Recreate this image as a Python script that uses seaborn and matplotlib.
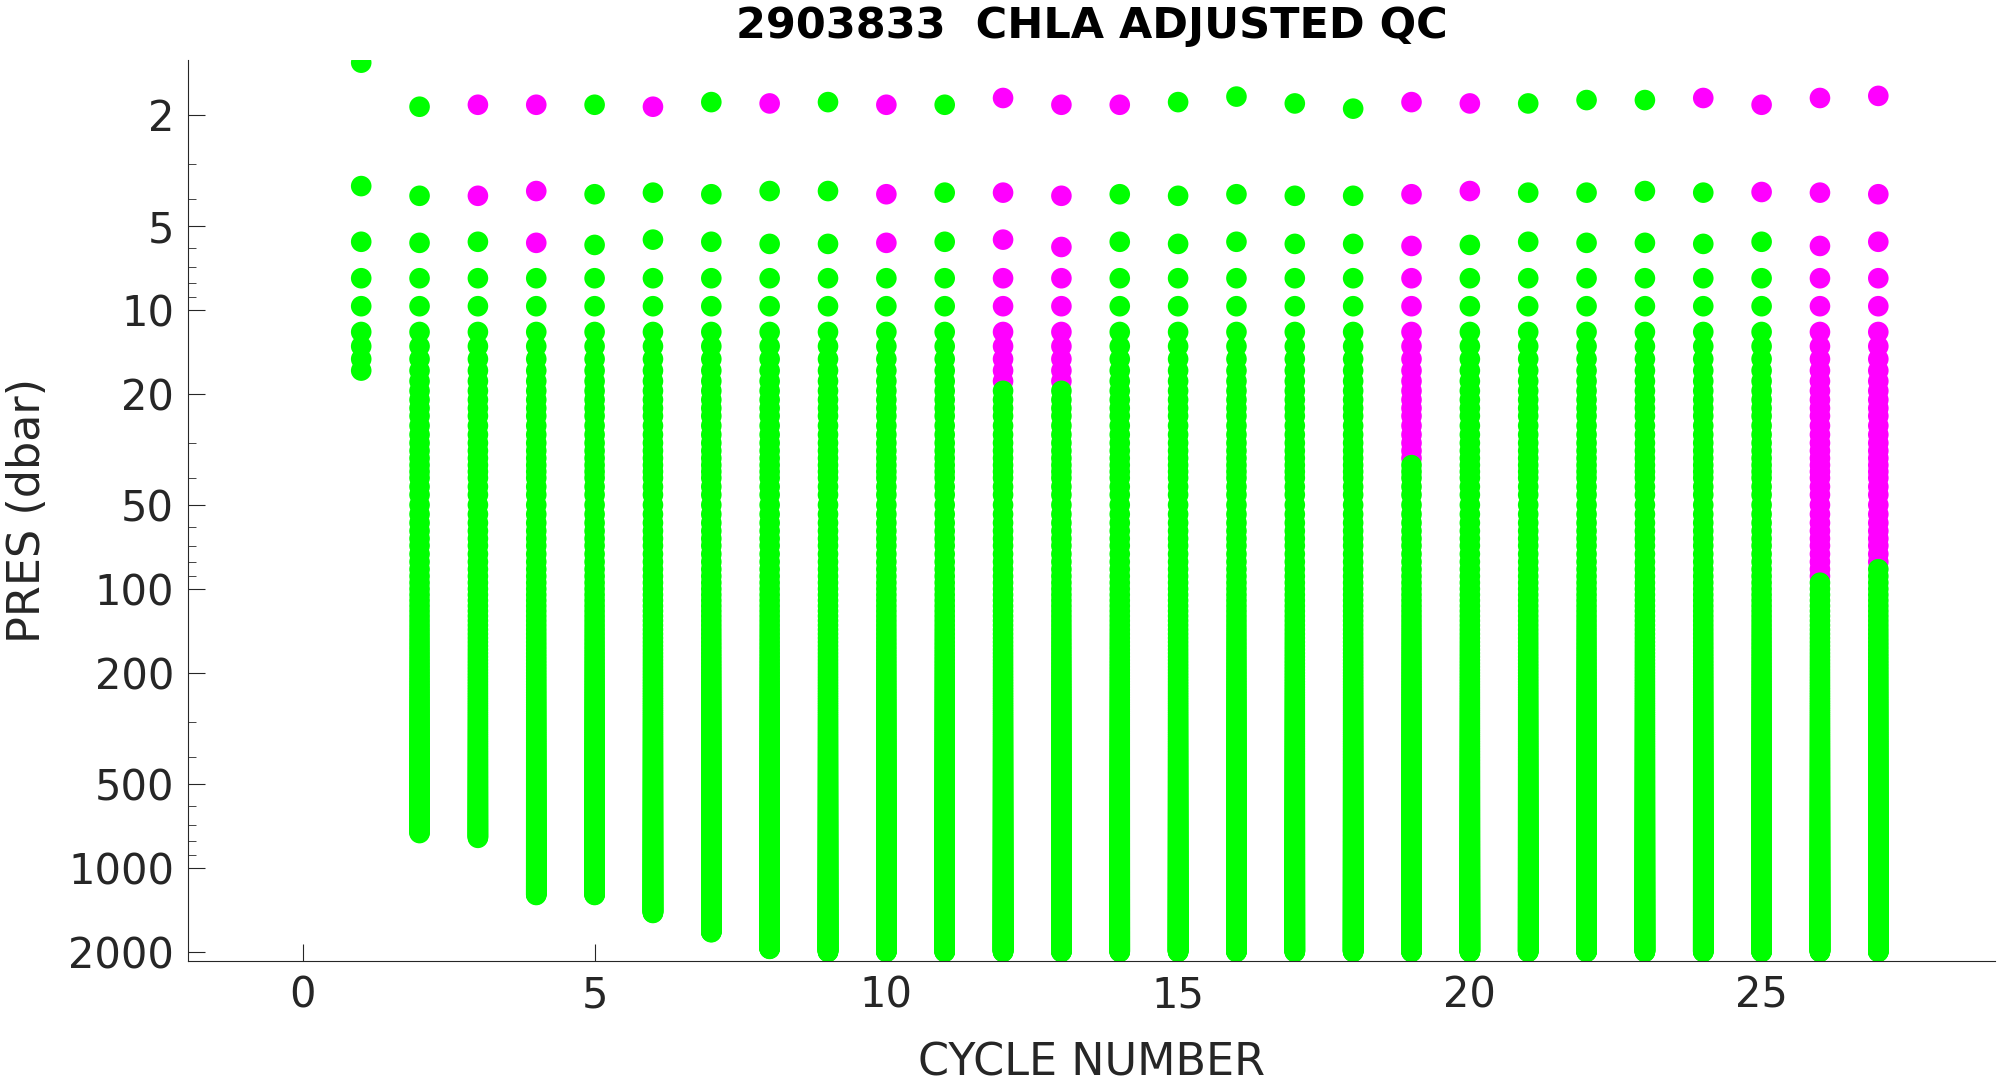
import numpy as np
import pandas as pd
import matplotlib
matplotlib.use("Agg")
import matplotlib.pyplot as plt
import seaborn as sns

cycles = list(range(1, 28))
top1 = [1.3,1.87,1.84,1.84,1.84,1.87,1.8,1.82,1.8,1.84,1.84,1.74,1.84,1.84,1.8,1.72,1.82,1.9,1.8,1.82,1.82,1.77,1.77,1.74,1.84,1.74,1.71]
top2 = [3.6,3.9,3.9,3.75,3.85,3.8,3.85,3.75,3.75,3.85,3.8,3.8,3.9,3.85,3.9,3.85,3.9,3.9,3.85,3.75,3.8,3.8,3.75,3.8,3.78,3.8,3.85]
top3 = [5.7,5.75,5.7,5.75,5.85,5.6,5.7,5.8,5.8,5.75,5.7,5.6,5.95,5.7,5.8,5.7,5.8,5.8,5.9,5.85,5.7,5.75,5.75,5.8,5.7,5.9,5.7]
max_pres = [17,750,780,1250,1250,1450,1700,1950]+[2000]*19
flag1 = [0,0,1,1,0,1,0,1,0,1,0,1,1,1,0,0,0,0,1,1,0,0,0,1,1,1,1]
flag2 = [0,0,1,1,0,0,0,0,0,1,0,1,1,0,0,0,0,0,1,1,0,0,0,0,1,1,1]
flag3 = [0,0,0,1,0,0,0,0,0,1,0,1,1,0,0,0,0,0,1,0,0,0,0,0,0,1,1]
flag_depth = [0]*11+[19,18]+[0]*5+[35]+[0]*6+[90,80]
# instrument sampling levels below the top three bins (dbar)
shallow_levels = [7.7,9.7,12,13.5,15,16.5,18,19.5,21,22.5,24,26,28,30,32,34,36,38,40,43,46,50,54,58,62,66,70,75,80,85,90,95,100]
deep_levels = list(np.arange(105, 2001, 5))

rows = []
for i, c in enumerate(cycles):
    rows.append((c, top1[i], flag1[i]))
    rows.append((c, top2[i], flag2[i]))
    rows.append((c, top3[i], flag3[i]))
    for p in shallow_levels + deep_levels:
        if p <= max_pres[i]:
            rows.append((c, p, 1 if p <= flag_depth[i] else 0))
df = pd.DataFrame(rows, columns=["cycle", "pres", "qc"])

sns.set_style("white")
plt.rcParams['font.family'] = ['DejaVu Sans']
fig = plt.figure(figsize=(19.99, 10.88), dpi=100)
ax = fig.add_axes([0.094, 0.117, 0.904, 0.828])
sns.scatterplot(data=df, x="cycle", y="pres", hue="qc", palette={0: "#00ff00", 1: "#ff00ff"},
                s=220, linewidth=0, legend=False, ax=ax)
ax.set_yscale("log")
ax.set_ylim(2150, 1.27)
ax.set_xlim(-1.97, 29.0)
yt = [2,5,10,20,50,100,200,500,1000,2000]
ax.set_yticks(yt)
ax.set_yticklabels([str(v) for v in yt])
ax.set_xticks([0,5,10,15,20,25])
ax.tick_params(direction="in", length=12, labelsize=30, colors="#262626", left=True, bottom=True, pad=10)
ax.tick_params(which="minor", direction="in", length=6, left=True)
for s in ["top", "right"]:
    ax.spines[s].set_visible(False)
for s in ["left", "bottom"]:
    ax.spines[s].set_color("#262626")
ax.set_xlabel("CYCLE NUMBER", fontsize=32, color="#262626", labelpad=18)
ax.set_ylabel("PRES (dbar)", fontsize=32, color="#262626", labelpad=14)
ax.set_title("2903833  CHLA ADJUSTED QC", fontsize=31, fontweight="bold", color="black", pad=16)
fig.savefig("out.png", dpi=100)
